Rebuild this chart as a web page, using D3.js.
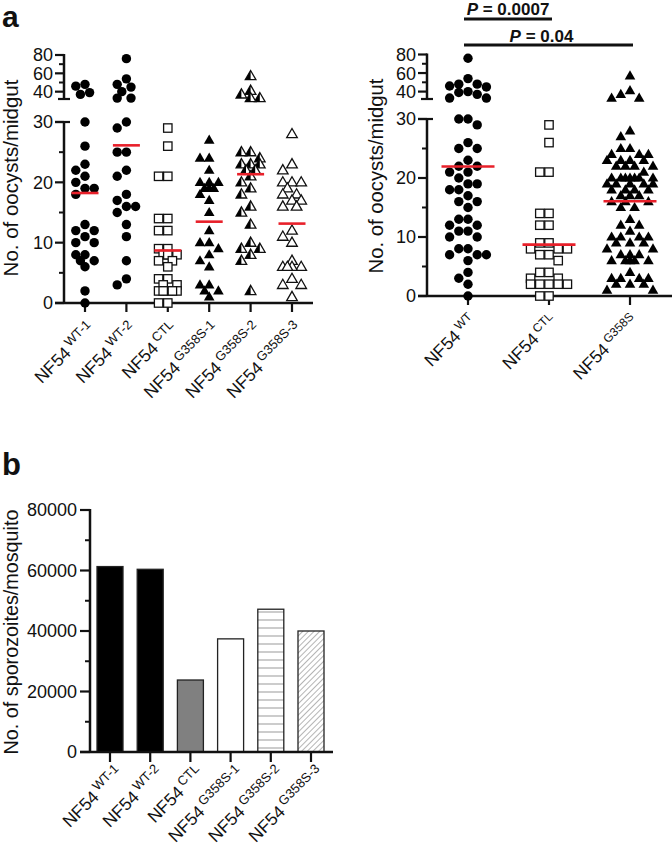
<!DOCTYPE html>
<html><head><meta charset="utf-8">
<script src="https://cdn.jsdelivr.net/npm/d3@7"></script>
<style>
body{margin:0;background:#fff}
svg{display:block}
text{font-family:"Liberation Sans",Arial,Helvetica,sans-serif;fill:#111}
</style>
</head><body>
<svg id="chart" width="672" height="848" font-family="Liberation Sans, Arial, sans-serif"></svg>
<script>
// ---------------- DATA ----------------
const catsA = ["WT-1", "WT-2", "CTL", "G358S-1", "G358S-2", "G358S-3"];
const wt1  = [48, 46, 39, 37, 30, 26, 23, 22, 21, 20, 19, 19, 18, 13, 12, 12, 11, 10, 10, 8, 8, 7, 7, 6, 2, 0];
const wt2  = [76, 54, 48, 45, 40, 33, 33, 30, 29, 25, 25, 22, 21, 18, 17, 16, 16, 15, 13, 11, 7, 4, 3];
const ctl  = [29, 26, 21, 21, 14, 14, 12, 12, 9, 9, 8, 8, 8, 7, 7, 6, 4, 4, 3, 3, 2, 2, 2, 2, 2, 0, 0];
const g358s1 = [27, 24, 24, 22, 20, 20, 20, 19, 19, 19, 18, 17, 15, 12, 10, 10, 9, 8, 7, 6, 3, 3, 2, 2, 1];
const g358s2 = [57, 41, 37, 33, 33, 25, 25, 24, 23, 23, 23, 22, 22, 21, 20, 19, 18, 16, 15, 13, 10, 9, 9, 8, 7, 2];
const g358s3 = [28, 23, 22, 20, 20, 20, 19, 18, 18, 17, 17, 16, 16, 12, 11, 10, 7, 6, 6, 6, 6, 4, 3, 3, 1];
const catsR = ["WT", "CTL", "G358S"];
const pooledWT = wt1.concat(wt2);
const pooledG358S = g358s1.concat(g358s2, g358s3);
const pLabels = ["0.0007", "0.04"];
const yTicksLower = [0, 10, 20, 30];
const yMinorLower = [5, 15, 25];
const yTicksUpper = [40, 60, 80];
const yMinorUpper = [50, 70];

const catsB = ["WT-1", "WT-2", "CTL", "G358S-1", "G358S-2", "G358S-3"];
const sporozoites = [61300, 60400, 23800, 37400, 47200, 40000];
const yTicksB = [0, 20000, 40000, 60000, 80000];
const yMinorB = [10000, 30000, 50000, 70000];

// ---------------- SETUP ----------------
const svg = d3.select("#chart");
const defs = svg.append("defs");
const RED = "#e8202a";
const AX = 2.5;

function line(g, x1, y1, x2, y2, w, col) {
  g.append("line").attr("x1", x1).attr("y1", y1).attr("x2", x2).attr("y2", y2)
    .attr("stroke", col || "#111").attr("stroke-width", w || AX);
}

// patterns for panel b
const ph = defs.append("pattern").attr("id", "hstripe").attr("patternUnits", "userSpaceOnUse")
  .attr("width", 8).attr("height", 8);
ph.append("rect").attr("width", 8).attr("height", 8).attr("fill", "#fff");
ph.append("line").attr("x1", 0).attr("x2", 8).attr("y1", 4).attr("y2", 4).attr("stroke", "#999").attr("stroke-width", 1);
const pd = defs.append("pattern").attr("id", "dstripe").attr("patternUnits", "userSpaceOnUse")
  .attr("width", 4).attr("height", 4).attr("patternTransform", "rotate(45)");
pd.append("rect").attr("width", 4).attr("height", 4).attr("fill", "#fff");
pd.append("line").attr("x1", 0).attr("x2", 0).attr("y1", 0).attr("y2", 4).attr("stroke", "#777").attr("stroke-width", 1.1);

// marker drawing
const TRI = "M0,-5.6L5.3,3.6L-5.3,3.6Z";
const TRI_L = "M0,-5.6L0,3.6L-5.3,3.6Z";
function marker(g, type, x, y) {
  const m = g.append("g").attr("transform", `translate(${x},${y})`);
  if (type === "circle") {
    m.append("circle").attr("r", 4.7).attr("fill", "#000");
  } else if (type === "square") {
    m.append("rect").attr("x", -4.2).attr("y", -4.2).attr("width", 8.4).attr("height", 8.4)
      .attr("fill", "#fff").attr("stroke", "#111").attr("stroke-width", 1.3);
  } else if (type === "triFill") {
    m.append("path").attr("d", TRI).attr("fill", "#000");
  } else if (type === "triOpen") {
    m.append("path").attr("d", TRI).attr("fill", "#fff").attr("stroke", "#111").attr("stroke-width", 1.3);
  } else if (type === "triHalf") {
    m.append("path").attr("d", TRI).attr("fill", "#fff").attr("stroke", "#111").attr("stroke-width", 1.3);
    m.append("path").attr("d", TRI_L).attr("fill", "#000");
  }
}

// Prism-like scatter: nudge sideways within a limited band; allow overlap when crowded
function swarm(values, xc, yf, d, step, maxOff) {
  const pts = values.map(v => ({ v: v, y: yf(v) }));
  pts.sort((a, b) => b.v - a.v);
  const offs = [0];
  for (let k = 1; k * step <= maxOff + 0.01; k++) { offs.push(-k * step, k * step); }
  const placed = [];
  for (const p of pts) {
    let best = null, bestD = -1;
    for (const o of offs) {
      const x = xc + o;
      const md = placed.length ? d3.min(placed, q => Math.hypot(q.x - x, q.y - p.y)) : 1e9;
      if (md >= d * 0.95) { best = x; bestD = 1e9; break; }
      if (md > bestD + 0.5) { bestD = md; best = x; }
    }
    p.x = best;
    placed.push(p);
  }
  return placed;
}

function brokenY(g, axisX, lower, upper, fs) {
  const yb = lower(0);
  line(g, axisX, yb + 1, axisX, lower(30));
  line(g, axisX - 9, lower(30), axisX + 6, lower(30), 2.2);
  yTicksLower.forEach(t => line(g, axisX - 9, lower(t), axisX, lower(t), 2.2));
  yMinorLower.forEach(t => line(g, axisX - 5, lower(t), axisX, lower(t), 2));
  line(g, axisX, upper(32), axisX, upper(80) - 1);
  line(g, axisX - 6, upper(32), axisX + 6, upper(32), 2.2);
  yTicksUpper.forEach(t => line(g, axisX - 9, upper(t), axisX, upper(t), 2.2));
  yMinorUpper.forEach(t => line(g, axisX - 5, upper(t), axisX, upper(t), 2));
  yTicksLower.forEach(t => g.append("text").attr("x", axisX - 11).attr("y", lower(t)).attr("dy", "0.36em")
    .attr("text-anchor", "end").attr("font-size", fs).text(t));
  yTicksUpper.forEach(t => g.append("text").attr("x", axisX - 11).attr("y", upper(t)).attr("dy", "0.36em")
    .attr("text-anchor", "end").attr("font-size", fs).text(t));
}

function xLabel(g, ax, ay, sup, fm, fsup, sd) {
  const t = g.append("text").attr("transform", `translate(${ax},${ay}) rotate(-45)`)
    .attr("text-anchor", "end");
  t.append("tspan").attr("font-size", fm).text("NF54");
  t.append("tspan").attr("font-size", fsup).attr("dx", 3).attr("dy", -sd).text(sup);
}

// rotated axis title, font size fitted so the title spans the measured length
function yTitle(g, x, y, txt, target) {
  const t = g.append("text").attr("transform", `translate(${x},${y}) rotate(-90)`)
    .attr("text-anchor", "middle").attr("font-size", 20).text(txt);
  const len = t.node().getComputedTextLength();
  if (len > 0) t.attr("font-size", Math.min(21, 20 * target / len));
}

// panel letters
svg.append("text").attr("x", 2).attr("y", 27).attr("font-size", 30).attr("font-weight", "bold").text("a");
svg.append("text").attr("x", 2).attr("y", 475).attr("font-size", 31).attr("font-weight", "bold").text("b");

// ---------------- PANEL a (left) ----------------
{
  const g = svg.append("g");
  const axisX = 64;
  const lower = d3.scaleLinear().domain([0, 30]).range([303, 122]);
  const upper = d3.scaleLinear().domain([32, 80]).range([99, 55]);
  const yf = v => v > 31 ? upper(v) : lower(v);
  const x = d3.scalePoint().domain(catsA).range([85, 292]);
  const groups = [wt1, wt2, ctl, g358s1, g358s2, g358s3];
  const types = ["circle", "circle", "square", "triFill", "triHalf", "triOpen"];

  line(g, axisX - 9, lower(0), 313, lower(0));
  catsA.forEach(c => line(g, x(c), lower(0), x(c), lower(0) + 9, 2.2));
  brokenY(g, axisX, lower, upper, 18);
  yTitle(g, 18, 178, "No. of oocysts/midgut", 197);

  groups.forEach((vals, i) => {
    const pts = swarm(vals, x(catsA[i]), yf, 9.2, 4.6, 9.2);
    pts.forEach(p => marker(g, types[i], p.x, p.y));
    const m = d3.mean(vals);
    line(g, x(catsA[i]) - 13.5, yf(m), x(catsA[i]) + 13.5, yf(m), 2.6, RED);
  });
  catsA.forEach(c => xLabel(g, x(c) + 11, lower(0) + 27, c, 17.5, 13, 6.5));
}

// ---------------- PANEL a (right) ----------------
{
  const g = svg.append("g");
  const axisX = 427;
  const lower = d3.scaleLinear().domain([0, 30]).range([296, 119]);
  const upper = d3.scaleLinear().domain([32, 80]).range([99, 54.5]);
  const yf = v => v > 31 ? upper(v) : lower(v);
  const x = d3.scalePoint().domain(catsR).range([468, 630]);
  const groups = [pooledWT, ctl, pooledG358S];
  const types = ["circle", "square", "triFill"];
  const spread = [23, 21, 27];

  line(g, axisX - 9, lower(0), 672, lower(0));
  catsR.forEach(c => line(g, x(c), lower(0), x(c), lower(0) + 9, 2.2));
  brokenY(g, axisX, lower, upper, 18);
  yTitle(g, 383, 176, "No. of oocysts/midgut", 195);

  groups.forEach((vals, i) => {
    const pts = swarm(vals, x(catsR[i]), yf, 9.2, 4.6, spread[i]);
    pts.forEach(p => marker(g, types[i], p.x, p.y));
    const m = d3.mean(vals);
    line(g, x(catsR[i]) - 26.5, yf(m), x(catsR[i]) + 26.5, yf(m), 2.6, RED);
  });
  catsR.forEach(c => xLabel(g, x(c) + 9, lower(0) + 26, c, 17.5, 12, 6.5));

  // significance bars
  const bars = [["WT", "CTL", 19, 15, 0], ["WT", "G358S", 45, 41.5, -7]];
  bars.forEach((b, i) => {
    const x1 = x(b[0]) - 4, x2 = x(b[1]) + 3;
    line(g, x1, b[2], x2, b[2], 3);
    const t = g.append("text").attr("x", (x1 + x2) / 2 + b[4]).attr("y", b[3])
      .attr("text-anchor", "middle").attr("font-size", 17).attr("font-weight", "bold");
    t.append("tspan").attr("font-style", "italic").text("P");
    t.append("tspan").text(" = " + pLabels[i]);
  });
}

// ---------------- PANEL b ----------------
{
  const g = svg.append("g");
  const axisX = 90;
  const y = d3.scaleLinear().domain([0, 80000]).range([752, 510]);
  const x = d3.scalePoint().domain(catsB).range([110, 311]);
  const fills = ["#000", "#000", "#808080", "#fff", "url(#hstripe)", "url(#dstripe)"];
  const bw = 26;

  g.selectAll("rect.bar").data(sporozoites).enter().append("rect")
    .attr("x", (d, i) => x(catsB[i]) - bw / 2).attr("y", d => y(d))
    .attr("width", bw).attr("height", d => y(0) - y(d))
    .attr("fill", (d, i) => fills[i]).attr("stroke", "#222").attr("stroke-width", 1.3);

  line(g, axisX, y(0) + 1, axisX, y(80000) - 1);
  line(g, 80, y(0), 333, y(0));
  yTicksB.forEach(t => line(g, axisX - 10, y(t), axisX, y(t), 2.2));
  yMinorB.forEach(t => line(g, axisX - 5, y(t), axisX, y(t), 2));
  yTicksB.forEach(t => g.append("text").attr("x", axisX - 13).attr("y", y(t)).attr("dy", "0.36em")
    .attr("text-anchor", "end").attr("font-size", 18).text(t));
  catsB.forEach(c => line(g, x(c), y(0), x(c), y(0) + 10, 2.2));
  catsB.forEach(c => xLabel(g, x(c) + 14, y(0) + 22, c, 17.5, 13, 6.5));
  yTitle(g, 18, 632, "No. of sporozoites/mosquito", 245);
}
</script>
</body></html>
